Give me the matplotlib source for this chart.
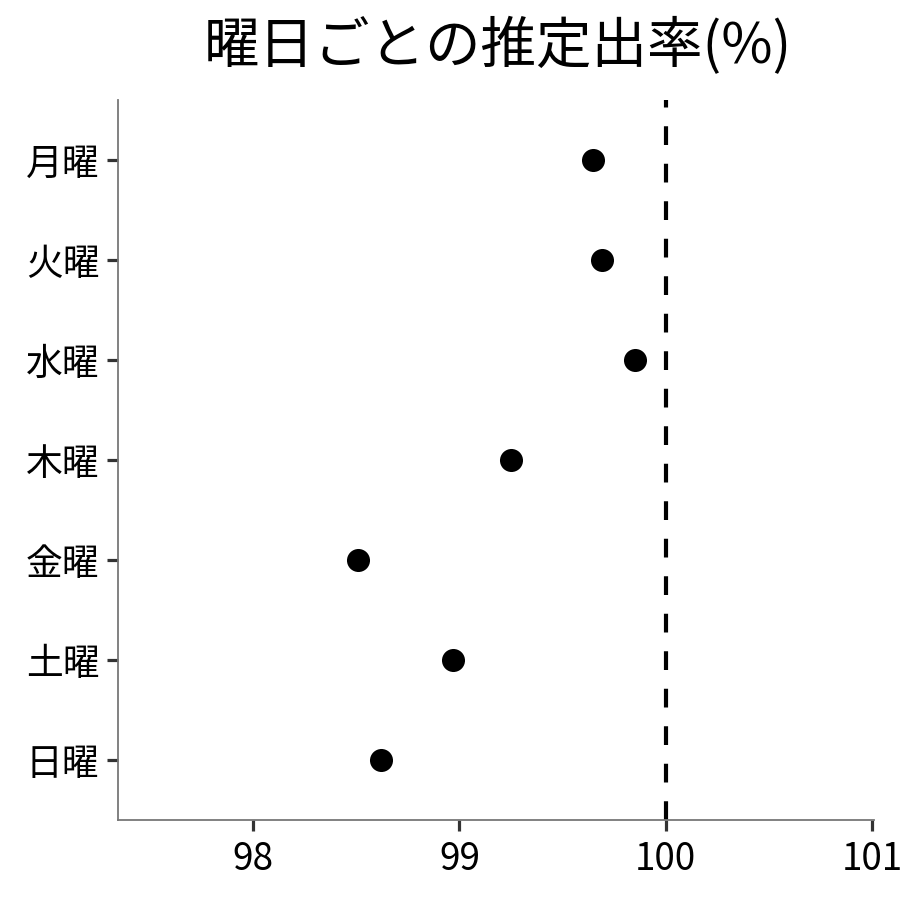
import matplotlib
matplotlib.use("Agg")
import matplotlib.pyplot as plt

plt.rcParams['font.family'] = ['Noto Sans CJK JP', 'DejaVu Sans']

days = ['月曜', '火曜', '水曜', '木曜', '金曜', '土曜', '日曜']
rates = [99.65, 99.69, 99.85, 99.25, 98.51, 98.97, 98.62]
xticks = [98, 99, 100, 101]
ref_line = 100

fig = plt.figure(figsize=(9, 9), dpi=100)
ax = fig.add_axes([118/900, 80/900, (874-118)/900, (820-100)/900])

ypos = list(range(len(days)))
ax.scatter(rates, ypos, s=23**2 * 0.52, color='black', zorder=3, linewidths=0)
ax.axvline(ref_line, color='black', linestyle=(0, (4.5, 4.5)), linewidth=3, zorder=2)

ax.set_yticks(ypos)
ax.set_yticklabels(days)
ax.set_ylim(len(days) - 0.4, -0.6)
ax.set_xlim(97.345, 101.01)
ax.set_xticks(xticks)
ax.set_xticklabels([str(v) for v in xticks])

for s in ['top', 'right']:
    ax.spines[s].set_visible(False)
for s in ['left', 'bottom']:
    ax.spines[s].set_color('#777777')
    ax.spines[s].set_linewidth(1.3)

ax.tick_params(axis='both', labelsize=26.5, length=8, width=2.3, color='#333333',
               labelcolor='black', direction='out')
ax.tick_params(axis='x', pad=6.5)
ax.tick_params(axis='y', pad=5.5)

fig.suptitle('曜日ごとの推定出率(%)', fontsize=40, y=0.98, x=0.553)

fig.savefig('out.png', dpi=100, facecolor='white')
